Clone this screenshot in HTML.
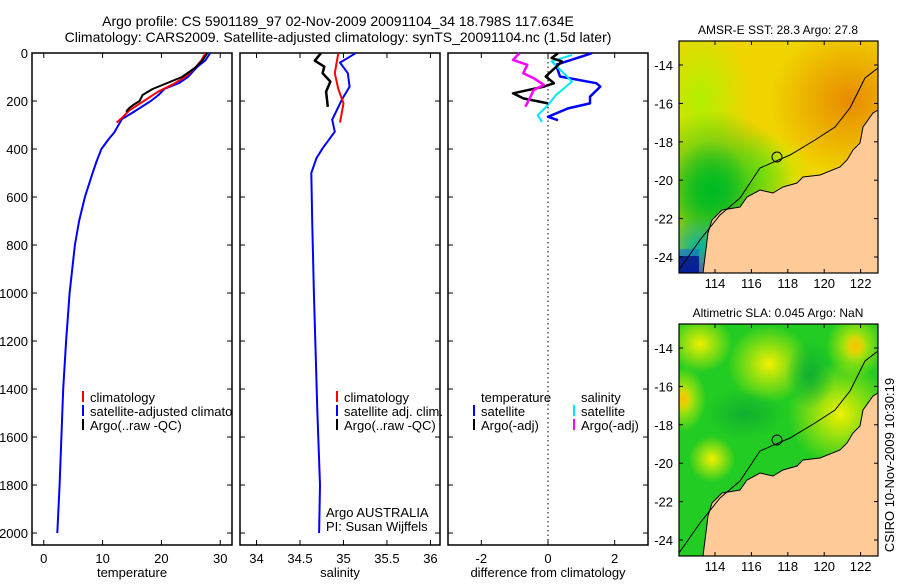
<!DOCTYPE html>
<html><head><meta charset="utf-8">
<style>
html,body{margin:0;padding:0;background:#fff;}
body{width:900px;height:580px;overflow:hidden;font-family:"Liberation Sans",sans-serif;}
svg text{font-family:"Liberation Sans",sans-serif;fill:#000;}
</style></head>
<body>
<svg id="fig" width="900" height="580" viewBox="0 0 900 580">
  <text x="338" y="26" font-size="14" text-anchor="middle">Argo profile: CS 5901189_97 02-Nov-2009 20091104_34 18.798S 117.634E</text>
  <text x="338" y="42" font-size="14" text-anchor="middle">Climatology: CARS2009. Satellite-adjusted climatology: synTS_20091104.nc (1.5d later)</text>
  <g id="panels"></g>
  <g id="maps"></g>
  <text transform="translate(894,465) rotate(-90)" font-size="13" text-anchor="middle">CSIRO 10-Nov-2009 10:30:19</text>
</svg>
<script>
// ---- data ----
const depthTicks = [0,200,400,600,800,1000,1200,1400,1600,1800,2000];
const tempTicks = [0,10,20,30];
const salTicks = [34,34.5,35,35.5,36];
const diffTicks = [-2,0,2];

const tempSatDepth = [0,30,60,100,125,150,175,200,250,275,300,330,360,400,450,500,600,700,800,1000,1200,1400,1600,1800,2000];
const tempSatVal   = [28.3,27.5,26,24.5,23,20.5,19.5,18.2,15,13.3,12.7,12,11,9.8,9,8.3,7,6,5.3,4.4,3.8,3.3,3,2.7,2.3];
const tempClimDepth = [0,30,60,100,130,160,200,240,270,290];
const tempClimVal   = [27.5,26.8,25.8,24,22,19.5,17,14.5,13.3,12.4];
const tempArgoDepth = [0,30,60,100,125,150,175,200,215,230,245];
const tempArgoVal   = [27.8,27,25.8,23.5,21,18.5,16.8,16.3,15.3,14.5,14];

const salSatDepth = [1,40,84,140,196,278,328,397,438,500,700,1000,1500,1800,2000];
const salSatVal   = [35.14,34.96,35.05,35.07,34.98,34.87,34.9,34.76,34.69,34.63,34.64,34.66,34.7,34.73,34.72];
const salClimDepth = [1,84,150,210,290];
const salClimVal   = [34.94,34.9,34.94,35.0,34.96];
const salArgoDepth = [1,32,57,84,119,161,224];
const salArgoVal   = [34.74,34.67,34.78,34.76,34.85,34.8,34.82];

const dTempSatDepth = [1,49,98,126,140,182,210,231,266,280];
const dTempSatVal   = [1.32,0.24,0.36,1.45,1.57,1.26,1.26,0.6,0,0.3];
const dTempArgoDepth = [1,21,35,98,126,140,168,189,210];
const dTempArgoVal   = [0.3,0.11,0.42,-0.07,0.18,-0.12,-1.05,-0.74,0];
const dSalSatDepth = [8,35,77,119,175,217,259,287];
const dSalSatVal   = [0.72,0.11,0.42,0.72,0.24,0,-0.31,-0.18];
const dSalArgoDepth = [1,29,49,84,105,133,154,189,224];
const dSalArgoVal   = [-0.86,-1.05,-0.62,-0.74,-0.43,-0.12,-0.43,-0.55,-0.68];

const mapLonTicks = [114,116,118,120,122];
const mapLatTicks = [14,16,18,20,22,24];

// ---- helpers ----
const NS="http://www.w3.org/2000/svg";
const svg=document.getElementById('fig');
function el(tag,attrs,parent){const e=document.createElementNS(NS,tag);for(const k in attrs)e.setAttribute(k,attrs[k]);(parent||svg).appendChild(e);return e;}
const Y0=53,Y1=545;
function yDepth(d){return Y0+(d/2050)*(Y1-Y0);}

const panelDefs=[
 {x0:32,x1:232,min:-2,max:32,ticks:tempTicks,label:'temperature',name:'temperature-panel'},
 {x0:240,x1:440,min:33.81,max:36.11,ticks:salTicks,label:'salinity',name:'salinity-panel'},
 {x0:448,x1:648,min:-3,max:3,ticks:diffTicks,label:'difference from climatology',name:'difference-panel'}
];
const panelsG=document.getElementById('panels');
const defsP=el('defs',{},panelsG);
const xfns=[];
panelDefs.forEach((p,i)=>{
  const cp=el('clipPath',{id:'pclip'+i},defsP);
  el('rect',{x:p.x0,y:Y0,width:p.x1-p.x0+(i===1?8:0),height:Y1-Y0},cp);
  const g=el('g',{},panelsG);
  
  
  const fx=v=>p.x0+(v-p.min)/(p.max-p.min)*(p.x1-p.x0);
  xfns.push(fx);
  const fr=el('rect',{x:p.x0,y:Y0,width:p.x1-p.x0,height:Y1-Y0,fill:'none',stroke:'#000','stroke-width':1.5},g);
  
  
  depthTicks.forEach(d=>{
    const y=yDepth(d);
    el('line',{x1:p.x0,y1:y,x2:p.x0+5,y2:y,stroke:'#000'},g);
    el('line',{x1:p.x1,y1:y,x2:p.x1-5,y2:y,stroke:'#000'},g);
    if(i===0){const t=el('text',{x:p.x0-4,y:y+5,'font-size':13,'text-anchor':'end'},g);t.textContent=d;
      
      }
  });
  p.ticks.forEach(v=>{
    const x=fx(v);
    el('line',{x1:x,y1:Y1,x2:x,y2:Y1-5,stroke:'#000'},g);
    el('line',{x1:x,y1:Y0,x2:x,y2:Y0+5,stroke:'#000'},g);
    const t=el('text',{x:x,y:563,'font-size':13,'text-anchor':'middle'},g);t.textContent=v;
    
    
  });
  const xl=el('text',{x:(p.x0+p.x1)/2,y:577,'font-size':13,'text-anchor':'middle'},g);xl.textContent=p.label;
  
  
});
const zl=el('line',{x1:xfns[2](0),y1:Y0,x2:xfns[2](0),y2:Y1,stroke:'#000','stroke-dasharray':'1.5,3'},panelsG);



function series(pi,depths,vals,color,name,w){
  const fx=xfns[pi];
  const pts=depths.map((d,k)=>fx(vals[k]).toFixed(1)+','+yDepth(d).toFixed(1)).join(' ');
  const pl=el('polyline',{points:pts,fill:'none',stroke:color,'stroke-width':w||2,'stroke-linejoin':'round'},panelsG);
  
  
}
series(0,tempSatDepth,tempSatVal,'#0000ff','temp-satellite-line');
series(0,tempClimDepth,tempClimVal,'#ff0000','temp-climatology-line');
series(0,tempArgoDepth,tempArgoVal,'#000000','temp-argo-line');
series(1,salSatDepth,salSatVal,'#0000ff','salinity-satellite-line');
series(1,salClimDepth,salClimVal,'#ff0000','salinity-climatology-line');
series(1,salArgoDepth,salArgoVal,'#000000','salinity-argo-line',2.5);
series(2,dTempSatDepth,dTempSatVal,'#0000ff','diff-temp-satellite-line',2.5);
series(2,dSalSatDepth,dSalSatVal,'#00e5ff','diff-sal-satellite-line');
series(2,dTempArgoDepth,dTempArgoVal,'#000000','diff-temp-argo-line',2.5);
series(2,dSalArgoDepth,dSalArgoVal,'#ff00ff','diff-sal-argo-line',2.5);

function legendEntry(pi,x,y,color,text){
  const g=el('g',{'clip-path':'url(#pclip'+pi+')'},panelsG);
  
  
  if(color) el('line',{x1:x,y1:y-11,x2:x,y2:y,stroke:color,'stroke-width':2},g);
  const t=el('text',{x:x+7,y:y,'font-size':13},g);t.textContent=text;
}
legendEntry(0,83,402,'#ff0000','climatology');
legendEntry(0,83,416,'#0000ff','satellite-adjusted climatology');
legendEntry(0,83,430,'#000000','Argo(..raw -QC)');
legendEntry(1,337,402,'#ff0000','climatology');
legendEntry(1,337,416,'#0000ff','satellite adj. clim.');
legendEntry(1,337,430,'#000000','Argo(..raw -QC)');
legendEntry(2,474,402,null,'temperature');
legendEntry(2,474,416,'#0000ff','satellite');
legendEntry(2,474,430,'#000000','Argo(-adj)');
legendEntry(2,574,402,null,'salinity');
legendEntry(2,574,416,'#00e5ff','satellite');
legendEntry(2,574,430,'#ff00ff','Argo(-adj)');
const a1=el('text',{x:326,y:517,'font-size':13},panelsG);a1.textContent='Argo AUSTRALIA';


const a2=el('text',{x:326,y:531,'font-size':13},panelsG);a2.textContent='PI: Susan Wijffels';



// ---- maps ----
const mapsG=document.getElementById('maps');
const MX0=679,MX1=878;
function lonX(l){return 715+(l-114)*18.2;}
const defs=el('defs',{},mapsG);
function radial(id,color){const g=el('radialGradient',{id:id},defs);
  el('stop',{offset:'0','stop-color':color,'stop-opacity':1},g);
  el('stop',{offset:'1','stop-color':color,'stop-opacity':0},g);}
radial('gOrange','#e88a00');radial('gGreen','#00bb22');radial('gTeal','#00b0a0');radial('gBlue','#0040e0');
radial('gYel','#f0f000');radial('gYel2','#f5c000');radial('gDkG','#10b030');radial('gLime','#b0f000');
const coast=[[703,273],[708,233],[712,220],[722,210],[740,207],[747,197],[760,190],[773,193],[783,187],[797,183],[803,177],[820,175],[840,167],[847,160],[853,150],[860,143],[863,127],[873,113],[878,110],[878,273]];
const contour=[[679,270],[700,240],[720,215],[740,198],[760,168],[790,155],[815,140],[835,127],[850,108],[865,78],[878,68]];
function drawMap(dy,title,kind,name){
  const g=el('g',{},mapsG);
  
  
  const top=41+dy,bot=273+dy;
  const cid='clip'+dy;
  const cp=el('clipPath',{id:cid},defs);el('rect',{x:MX0,y:top,width:MX1-MX0,height:bot-top},cp);
  const f=el('g',{'clip-path':'url(#'+cid+')'},g);
  if(kind==='sst'){
    el('rect',{x:MX0,y:top,width:200,height:232,fill:'#f0d400'},f);
    el('ellipse',{cx:850,cy:top+60,rx:80,ry:75,fill:'url(#gOrange)'},f);
    el('ellipse',{cx:700,cy:top+60,rx:50,ry:80,fill:'url(#gLime)'},f);
    el('ellipse',{cx:760,cy:top+130,rx:50,ry:40,fill:'url(#gLime)'},f);
    el('ellipse',{cx:715,cy:top+150,rx:80,ry:80,fill:'url(#gGreen)'},f);
    el('ellipse',{cx:710,cy:top+150,rx:40,ry:50,fill:'url(#gGreen)'},f);
    el('ellipse',{cx:700,cy:top+205,rx:40,ry:30,fill:'url(#gTeal)'},f);
    el('ellipse',{cx:690,cy:top+235,rx:35,ry:30,fill:'url(#gBlue)'},f);
    el('rect',{x:679,y:top+208,width:20,height:30,fill:'#0070e0',opacity:0.5},f);
    el('rect',{x:679,y:top+215,width:20,height:20,fill:'#000080',opacity:0.7},f);
  } else {
    el('rect',{x:MX0,y:top,width:200,height:232,fill:'#22cc22'},f);
    [[700,top+20,25,22],[769,top+40,32,30],[683,top+75,18,25],[855,top+22,22,25],[712,top+135,18,18],[840,top+90,40,40]].forEach(c=>{
      el('ellipse',{cx:c[0],cy:c[1],rx:c[2]*1.3,ry:c[3]*1.3,fill:'url(#gYel)'},f);});
    el('ellipse',{cx:855,cy:top+22,rx:12,ry:14,fill:'url(#gYel2)'},f);
    el('ellipse',{cx:683,cy:top+75,rx:10,ry:14,fill:'url(#gYel2)'},f);
    el('ellipse',{cx:745,cy:top+90,rx:40,ry:25,fill:'url(#gDkG)'},f);
    el('ellipse',{cx:810,cy:top+50,rx:25,ry:35,fill:'url(#gDkG)'},f);
  }
  const land=el('polygon',{points:coast.map(p=>p[0]+','+(p[1]+dy)).join(' '),fill:'#fdca98',stroke:'#000','stroke-width':1},f);
  
  
  el('polyline',{points:contour.map(p=>p[0]+','+(p[1]+dy)).join(' '),fill:'none',stroke:'#000','stroke-width':1},f);
  const c=el('circle',{cx:777,cy:157+dy,r:5,fill:'none',stroke:'#000'},f);
  
  
  el('rect',{x:MX0,y:top,width:MX1-MX0,height:bot-top,fill:'none',stroke:'#000','stroke-width':1.2},g);
  mapLonTicks.forEach(l=>{const x=lonX(l);
    el('line',{x1:x,y1:bot,x2:x,y2:bot-4,stroke:'#000'},g);el('line',{x1:x,y1:top,x2:x,y2:top+4,stroke:'#000'},g);
    const t=el('text',{x:x,y:bot+15,'font-size':13,'text-anchor':'middle'},g);t.textContent=l;
    
    });
  mapLatTicks.forEach(l=>{const y=65+(l-14)*19.2+dy;
    el('line',{x1:MX0,y1:y,x2:MX0+4,y2:y,stroke:'#000'},g);el('line',{x1:MX1,y1:y,x2:MX1-4,y2:y,stroke:'#000'},g);
    const t=el('text',{x:MX0-6,y:y+5,'font-size':13,'text-anchor':'end'},g);t.textContent='-'+l;
    
    });
  const tt=el('text',{x:778,y:top-7,'font-size':12,'text-anchor':'middle'},g);tt.textContent=title;
  
  
}
drawMap(0,'AMSR-E SST: 28.3 Argo: 27.8','sst','sst-map');
drawMap(283,'Altimetric SLA: 0.045 Argo: NaN','sla','sla-map');
</script>
</body></html>
